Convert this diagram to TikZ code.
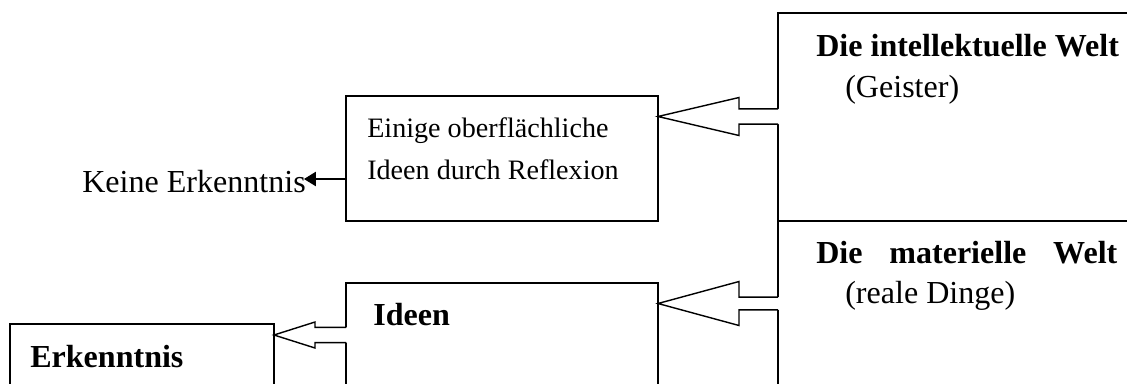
\documentclass[tikz,border=0pt]{standalone}
\usepackage{fontspec}
\setmainfont{Liberation Serif}
\usetikzlibrary{calc,arrows.meta}

% Blockpfeil: Start (am Kasten), Spitze, Kopflaenge, halbe Kopfbreite, halbe Schaftbreite
\newcommand{\hohlpfeil}[5]{%
  \fill[white] ($(#1)+(0.05,#5)$) -- ($(#2)+(#3,#5)$) -- ($(#2)+(#3,#4)$) -- (#2)
    -- ($(#2)+(#3,-#4)$) -- ($(#2)+(#3,-#5)$) -- ($(#1)+(0.05,-#5)$) -- cycle;
  \draw[pfeil] ($(#1)+(0,#5)$) -- ($(#2)+(#3,#5)$) -- ($(#2)+(#3,#4)$) -- (#2)
    -- ($(#2)+(#3,-#4)$) -- ($(#2)+(#3,-#5)$) -- ($(#1)+(0,-#5)$);
}

\begin{document}
\begin{tikzpicture}[
    kasten/.style={draw, line width=1.2pt, inner sep=0pt, outer sep=0pt, anchor=north west},
    pfeil/.style={line width=1pt, line join=miter},
    gross/.style={font=\fontsize{22.8}{27}\selectfont, inner sep=0pt, anchor=base west},
    klein/.style={font=\fontsize{20}{24}\selectfont, inner sep=0pt, anchor=base west}]
  \useasboundingbox (0,0) rectangle (28.175,-9.575);
  \clip (0,0) rectangle (28.175,-9.575);

  % Kaesten
  \node[kasten, minimum width=10cm, minimum height=5.2cm] (geist) at (19.45,-0.325) {};
  \node[kasten, minimum width=10cm, minimum height=5cm] (materie) at (19.45,-5.525) {};
  \node[kasten, minimum width=7.8cm, minimum height=3.125cm] (reflexion) at (8.65,-2.4) {};
  \node[kasten, minimum width=7.8cm, minimum height=4cm] (ideen) at (8.65,-7.075) {};
  \node[kasten, minimum width=6.6cm, minimum height=3cm] (erkenntnis) at (0.25,-8.1) {};

  % Texte
  \node[gross] (geist-titel) at (20.4,-1.4) {\textbf{Die intellektuelle Welt}};
  \node[gross] (geist-zusatz) at (21.125,-2.425) {(Geister)};
  \node[gross] (materie-titel) at (20.4,-6.575) {\makebox[7.525cm][s]{\textbf{Die materielle Welt}}};
  \node[gross] (materie-zusatz) at (21.125,-7.575) {(reale Dinge)};
  \node[klein] (reflexion-a) at (9.175,-3.425) {Einige oberflächliche};
  \node[klein] (reflexion-b) at (9.175,-4.475) {Ideen durch Reflexion};
  \node[gross] (ideen-titel) at (9.325,-8.125) {\textbf{Ideen}};
  \node[gross] (erkenntnis-titel) at (0.75,-9.175) {\textbf{Erkenntnis}};
  \node[gross] (keine) at (2.05,-4.8) {Keine Erkenntnis};

  % Pfeile
  \coordinate (keine-spitze) at ([xshift=-0.05cm, yshift=0.325cm]keine.base east);
  \draw[pfeil, -{Triangle[length=0.3cm, width=0.36cm]}] (reflexion.west |- keine-spitze) -- (keine-spitze);

  \coordinate (p1-start) at ($(geist.north west)+(0,-2.5875)$);
  \coordinate (p1-spitze) at ($(reflexion.north east)+(0,-0.5125)$);
  \hohlpfeil{p1-start}{p1-spitze}{2.025}{0.475}{0.19}

  \coordinate (p2-start) at ($(materie.north west)+(0,-2.0625)$);
  \coordinate (p2-spitze) at ($(ideen.north east)+(0,-0.5125)$);
  \hohlpfeil{p2-start}{p2-spitze}{2.025}{0.55}{0.16}

  \coordinate (p3-start) at ($(ideen.north west)+(0,-1.3)$);
  \coordinate (p3-spitze) at ($(erkenntnis.north east)+(0,-0.275)$);
  \hohlpfeil{p3-start}{p3-spitze}{1.025}{0.325}{0.19}
\end{tikzpicture}
\end{document}
